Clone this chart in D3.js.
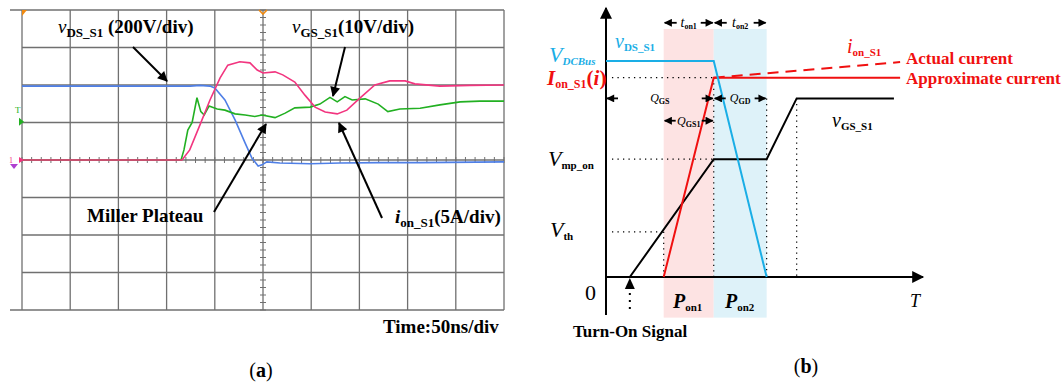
<!DOCTYPE html>
<html>
<head>
<meta charset="utf-8">
<script src="https://cdn.jsdelivr.net/npm/d3@7/dist/d3.min.js"></script>
<style>
  body { margin: 0; background: #fff; }
  svg { display: block; }
  text { font-family: "Liberation Serif", "Times New Roman", serif; }
</style>
</head>
<body>
<svg id="fig" width="1064" height="385"></svg>
<script>
// ---- (a) scope traces in divisions (x 0..10, y -4..4)
const vdsT = [0, 3.49, 3.69, 3.90, 4.00, 4.21, 4.42, 4.63, 4.77, 4.90, 4.98, 5.08, 5.35, 5.98, 6.6, 7.43, 8.26, 10];
const vdsV = [1.97, 1.97, 1.99, 1.97, 1.92, 1.6, 1.07, 0.45, 0.05, -0.16, -0.13, -0.05, -0.08, -0.1, -0.08, -0.07, -0.07, -0.05];

const ionT = [0, 3.32, 3.48, 3.69, 3.90, 4.11, 4.27, 4.52, 4.73, 4.88, 5.0, 5.25, 5.41, 5.66, 5.87, 6.08, 6.29, 6.54, 6.74, 7.01, 7.32, 7.63, 7.95, 8.15, 8.67, 9.29, 10];
const ionV = [0, 0, 0.27, 0.93, 1.6, 2.19, 2.53, 2.62, 2.59, 2.4, 2.32, 2.35, 2.27, 2.08, 1.73, 1.41, 1.28, 1.23, 1.33, 1.65, 2.0, 2.11, 2.11, 2.03, 1.97, 1.99, 2.0];

const vgsT = [0, 3.30, 3.36, 3.44, 3.53, 3.63, 3.71, 3.78, 3.88, 4.05, 4.21, 4.42, 4.63, 4.83, 4.98, 5.25, 5.46, 5.66, 5.98, 6.18, 6.39, 6.54, 6.70, 6.85, 7.12, 7.39, 7.59, 7.84, 8.26, 8.67, 9.09, 9.50, 10];
const vgsV = [0, 0, 0.27, 0.8, 1.0, 1.66, 1.29, 1.2, 1.44, 1.36, 1.33, 1.23, 1.2, 1.16, 1.2, 1.13, 1.25, 1.39, 1.41, 1.49, 1.67, 1.55, 1.69, 1.6, 1.63, 1.49, 1.29, 1.36, 1.38, 1.47, 1.55, 1.57, 1.57];

// ---- (b) idealised turn-on waveforms (time units / level units)
const tSignal = 10, tTh = 24.2, t1 = 45.2, t2 = 67.4, t3 = 80, tEnd = 123.4;
const lvDC = 80.3, lvIon = 74.1, lvIonActual = 79.9, lvGSmax = 66.4, lvMp = 43.8, lvTh = 16.8;

const vdsWaveT = [0, t1, t2];
const vdsWaveV = [lvDC, lvDC, 0];
const ionWaveT = [tTh, t1, tEnd];
const ionWaveV = [0, lvIon, lvIon];
const ionActT = [t1, tEnd];
const ionActV = [lvIon, lvIonActual];
const vgsWaveT = [tSignal, t1, t2, t3, 120.8];
const vgsWaveV = [0, lvMp, lvMp, lvGSmax, lvGSmax];

const dimName = [["t", "on1"], ["t", "on2"], ["Q", "GS"], ["Q", "GD"], ["Q", "GS1"]];
const dimFrom = [tTh, t1, 0, t1, tTh];
const dimTo = [t1, t2, t1, t2, t1];
const dimLevel = [94.5, 94.5, 66.4, 66.4, 58.1];

const svg = d3.select("#fig");
const defs = svg.append("defs");

function marker(id, w, h) {
  defs.append("marker").attr("id", id)
    .attr("viewBox", "0 0 10 10").attr("refX", 9).attr("refY", 5)
    .attr("markerUnits", "userSpaceOnUse")
    .attr("markerWidth", w).attr("markerHeight", h)
    .attr("orient", "auto")
    .append("path").attr("d", "M0,0L10,5L0,10Z").attr("fill", "#000");
}
marker("ah", 13, 10);
marker("ax", 15, 12);
marker("dm", 10, 8);

// text with sub scripts: parts = [text, flags, size, shift]
function label(g, x, y, parts, color, size, anchor) {
  const t = g.append("text").attr("x", x).attr("y", y)
    .attr("fill", color || "#000").attr("font-size", size)
    .attr("text-anchor", anchor || "start");
  let shift = 0;
  parts.forEach(p => {
    const s = t.append("tspan").text(p[0]);
    const f = p[1] || "";
    if (f.includes("i")) s.attr("font-style", "italic");
    if (f.includes("b")) s.attr("font-weight", "bold");
    if (p[2]) s.attr("font-size", p[2]);
    const want = p[3] || 0;
    if (want !== shift) { s.attr("dy", want - shift); shift = want; }
  });
  return t;
}

// ================= (a) =================
const xa = d3.scaleLinear().domain([0, 10]).range([22, 504]);
const ya = d3.scaleLinear().domain([-4, 4]).range([310, 10]);
const ga = svg.append("g");
const gridCol = "#707070";

ga.selectAll(".vg").data(d3.range(0, 11)).enter().append("line")
  .attr("x1", d => xa(d)).attr("x2", d => xa(d))
  .attr("y1", ya(4)).attr("y2", ya(-4))
  .attr("stroke", gridCol).attr("stroke-width", 1.3);
ga.selectAll(".hg").data(d3.range(-4, 5)).enter().append("line")
  .attr("x1", d => Math.abs(d) === 4 ? 10 : xa(0)).attr("x2", xa(10))
  .attr("y1", d => ya(d)).attr("y2", d => ya(d))
  .attr("stroke", gridCol).attr("stroke-width", 1.3);

// minor ticks on the centre cross
ga.selectAll(".tv").data(d3.range(-4, 4.01, 0.2)).enter().append("line")
  .attr("x1", xa(5) - 3).attr("x2", xa(5) + 3)
  .attr("y1", d => ya(d)).attr("y2", d => ya(d))
  .attr("stroke", gridCol).attr("stroke-width", 1);
ga.selectAll(".th").data(d3.range(0, 10.01, 0.2)).enter().append("line")
  .attr("x1", d => xa(d)).attr("x2", d => xa(d))
  .attr("y1", ya(0) - 3).attr("y2", ya(0) + 3)
  .attr("stroke", gridCol).attr("stroke-width", 1);

const trace = d3.line().x(d => xa(d[0])).y(d => ya(d[1]));
const zipT = (t, v) => t.map((d, i) => [d, v[i]]);
ga.append("path").datum(zipT(vdsT, vdsV)).attr("d", trace)
  .attr("fill", "none").attr("stroke", "#4f7fe6").attr("stroke-width", 1.6);
ga.append("path").datum(zipT(vgsT, vgsV)).attr("d", trace)
  .attr("fill", "none").attr("stroke", "#22b022").attr("stroke-width", 1.6);
ga.append("path").datum(zipT(ionT, ionV)).attr("d", trace)
  .attr("fill", "none").attr("stroke", "#f2357f").attr("stroke-width", 1.6);

// scope markers
ga.append("path").attr("d", `M${xa(0)},${ya(4)}h5l-5,6z`).attr("fill", "#f08a10");
ga.append("path").attr("d", `M${xa(5) - 4},${ya(4)}l4,4l4,-4`).attr("fill", "none")
  .attr("stroke", "#f08a10").attr("stroke-width", 1.6);
ga.append("text").attr("x", 15).attr("y", ya(1.25)).attr("font-size", 9)
  .attr("fill", "#22b022").text("T");
ga.append("path").attr("d", `M${xa(0) - 3},${ya(1.02) - 4}l5,4l-5,4z`).attr("fill", "#22b022");
ga.append("text").attr("x", 9).attr("y", ya(0) + 3).attr("font-size", 8)
  .attr("fill", "#f2357f").text("1");
ga.append("path").attr("d", `M${xa(0) - 3},${ya(0) - 3}l5,3l-5,3z`).attr("fill", "#f2357f");
ga.append("path").attr("d", `M10,${ya(0) + 4}h8l-4,5z`).attr("fill", "#b040d0");

// annotations
const annA = svg.append("g");
function arrowLine(g, x1, y1, x2, y2, m) {
  g.append("line").attr("x1", x1).attr("y1", y1).attr("x2", x2).attr("y2", y2)
    .attr("stroke", "#000").attr("stroke-width", 2).attr("marker-end", `url(#${m})`);
}
label(annA, 58, 33, [["v", "i"], ["DS_S1", "b", 13, 4], [" (200V/div)", "b", 19, 0]], "#000", 19);
arrowLine(annA, 133, 47, 167, 81, "ah");
label(annA, 292, 33, [["v", "i"], ["GS_S1", "b", 13, 4], ["(10V/div)", "b", 19, 0]], "#000", 19);
arrowLine(annA, 345, 47, 333, 96, "ah");
annA.append("text").attr("x", 87).attr("y", 222).attr("font-size", 19)
  .attr("font-weight", "bold").text("Miller Plateau");
arrowLine(annA, 214, 212, 266, 124, "ah");
label(annA, 395, 223, [["i", "ib"], ["on_S1", "b", 13, 4], ["(5A/div)", "b", 19, 0]], "#000", 19);
arrowLine(annA, 382, 218, 339, 123, "ah");
annA.append("text").attr("x", 383).attr("y", 333).attr("font-size", 19)
  .attr("font-weight", "bold").text("Time:50ns/div");
label(annA, 261, 377, [["("], ["a", "b"], [")"]], "#000", 20, "middle");

// ================= (b) =================
const xb = d3.scaleLinear().domain([0, 133]).range([606, 923]);
const yb = d3.scaleLinear().domain([0, 100]).range([277, 8]);
const gb = svg.append("g");

// phase shading
gb.append("rect").attr("x", xb(tTh)).attr("width", xb(t1) - xb(tTh))
  .attr("y", yb(92.2)).attr("height", yb(-15.1) - yb(92.2)).attr("fill", "#fde3e3");
gb.append("rect").attr("x", xb(t1)).attr("width", xb(t2) - xb(t1))
  .attr("y", yb(92.2)).attr("height", yb(-15.1) - yb(92.2)).attr("fill", "#def2f9");

// dotted guides
const dot = (xA, yA, xB, yB) => gb.append("line")
  .attr("x1", xb(xA)).attr("y1", yb(yA)).attr("x2", xb(xB)).attr("y2", yb(yB))
  .attr("stroke", "#000").attr("stroke-width", 1.2).attr("stroke-dasharray", "1.3,4.2");
dot(2.5, lvIon, t1, lvIon);
dot(2.5, lvMp, t1, lvMp);
dot(2.5, lvTh, tTh, lvTh);
dot(tTh, lvTh, tTh, 0);
dot(t1, lvIon, t1, 0);
dot(t2, lvGSmax, t2, 0);
dot(t3, lvGSmax, t3, 0);

// axes
gb.append("line").attr("x1", xb(0)).attr("y1", yb(-14.1)).attr("x2", xb(0)).attr("y2", yb(100))
  .attr("stroke", "#000").attr("stroke-width", 2).attr("marker-end", "url(#ax)");
gb.append("line").attr("x1", xb(0)).attr("y1", yb(0)).attr("x2", xb(133)).attr("y2", yb(0))
  .attr("stroke", "#000").attr("stroke-width", 2).attr("marker-end", "url(#ax)");

// waveforms
const wave = d3.line().x(d => xb(d[0])).y(d => yb(d[1]));
gb.append("path").datum(zipT(vgsWaveT, vgsWaveV)).attr("d", wave)
  .attr("fill", "none").attr("stroke", "#000").attr("stroke-width", 2);
gb.append("path").datum(zipT(ionActT, ionActV)).attr("d", wave)
  .attr("fill", "none").attr("stroke", "#f01010").attr("stroke-width", 2)
  .attr("stroke-dasharray", "11,7");
gb.append("path").datum(zipT(ionWaveT, ionWaveV)).attr("d", wave)
  .attr("fill", "none").attr("stroke", "#f01010").attr("stroke-width", 2);
gb.append("path").datum(zipT(vdsWaveT, vdsWaveV)).attr("d", wave)
  .attr("fill", "none").attr("stroke", "#1aaee6").attr("stroke-width", 2);

// turn-on signal arrow
gb.append("path").attr("d", `M${xb(tSignal)},${yb(0) + 1}l-5,11h10z`).attr("fill", "#000");
gb.append("line").attr("x1", xb(tSignal)).attr("x2", xb(tSignal))
  .attr("y1", yb(0) + 16).attr("y2", yb(0) + 34)
  .attr("stroke", "#000").attr("stroke-width", 2).attr("stroke-dasharray", "2,5");

// dimension arrows
dimName.forEach((n, i) => {
  const a = xb(dimFrom[i]), b = xb(dimTo[i]), y = yb(dimLevel[i]);
  const shaft = n[0] === "t" ? 13 : 12;
  gb.append("line").attr("x1", a + shaft).attr("x2", a + 1).attr("y1", y).attr("y2", y)
    .attr("stroke", "#000").attr("stroke-width", 1.8).attr("marker-end", "url(#dm)");
  gb.append("line").attr("x1", b - shaft).attr("x2", b - 1).attr("y1", y).attr("y2", y)
    .attr("stroke", "#000").attr("stroke-width", 1.8).attr("marker-end", "url(#dm)");
  const big = n[0] === "Q" ? 12 : 14;
  label(gb, (a + b) / 2, y + 4, [[n[0], "i"], [n[1], "b", 8, 2]], "#000", big, "middle");
});

// level labels
const cyan = "#1aaee6", red = "#f01010";
label(gb, 549, 62, [["V", "i"], ["DCBus", "ib", 11, 3]], cyan, 22);
label(gb, 615, 48, [["v", "i"], ["DS_S1", "b", 11, 3]], cyan, 20);
label(gb, 547, 85, [["I", "ib"], ["on_S1", "b", 12, 3], ["(", "b", 21, 0], ["i", "ib"], [")", "b"]], red, 21);
label(gb, 548, 166, [["V", "i"], ["mp_on", "b", 11, 3]], "#000", 22);
label(gb, 550, 237, [["V", "i"], ["th", "b", 11, 3]], "#000", 22);
gb.append("text").attr("x", 585).attr("y", 300).attr("font-size", 22).text("0");
label(gb, 673, 308, [["P", "ib"], ["on1", "b", 11, 3]], "#000", 20);
label(gb, 725, 308, [["P", "ib"], ["on2", "b", 11, 3]], "#000", 20);
gb.append("text").attr("x", 573).attr("y", 337).attr("font-size", 17)
  .attr("font-weight", "bold").text("Turn-On Signal");
gb.append("text").attr("x", 910).attr("y", 307).attr("font-size", 18)
  .attr("font-style", "italic").text("T");
label(gb, 847, 53, [["i", "i"], ["on_S1", "b", 11, 3]], red, 20);
gb.append("text").attr("x", 906).attr("y", 64).attr("font-size", 17)
  .attr("font-weight", "bold").attr("fill", red).text("Actual current");
gb.append("text").attr("x", 906).attr("y", 84).attr("font-size", 17)
  .attr("font-weight", "bold").attr("fill", red).text("Approximate current");
label(gb, 832, 127, [["v", "i"], ["GS_S1", "b", 11, 3]], "#000", 20);
label(gb, 806, 373, [["("], ["b", "b"], [")"]], "#000", 20, "middle");
</script>
</body>
</html>
